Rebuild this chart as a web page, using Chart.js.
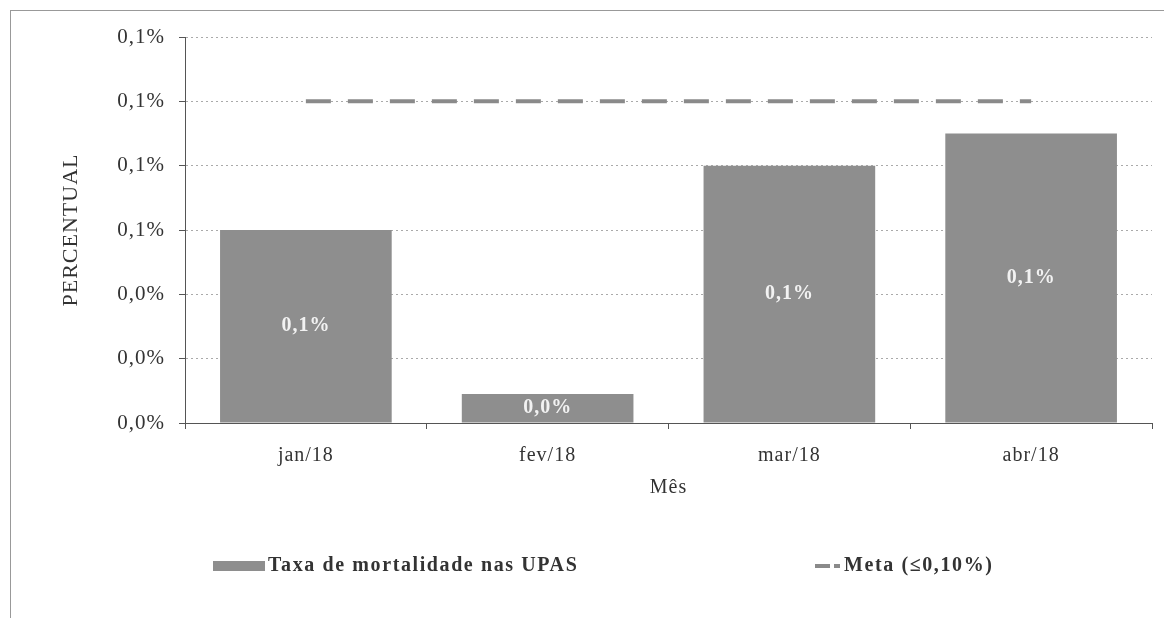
<!DOCTYPE html>
<html>
<head>
<meta charset="utf-8">
<script src="https://cdn.jsdelivr.net/npm/chart.js@4/dist/chart.umd.min.js"></script>
<style>
  html, body { margin: 0; padding: 0; background: #fff; }
  #wrap { position: relative; width: 1164px; height: 618px; }
  #frame { position: absolute; left: 10px; top: 10px; right: 0; bottom: 0;
           border-top: 1px solid #999; border-left: 1px solid #999; }
  #legend { position: absolute; top: 553px; left: 0; width: 1164px; height: 26px;
            font-family: "Liberation Serif", serif; font-size: 20px; font-weight: bold;
            letter-spacing: 1.6px; color: #333; }
  #legend span { position: absolute; }
</style>
</head>
<body>
<div id="wrap">
  <div id="frame"></div>
  <canvas id="taxaChart" width="1164" height="618"></canvas>
  <div id="legend"></div>
</div>
<script>
const meses = ['jan/18', 'fev/18', 'mar/18', 'abr/18'];
const taxaMortalidade = [0.06, 0.009, 0.08, 0.09];
const meta = [0.10, 0.10, 0.10, 0.10];
const serieNomes = ['Taxa de mortalidade nas UPAS', 'Meta (≤0,10%)'];

const corBarra = '#8e8e8e';
const corMeta = '#8a8a8a';
const fonte = '"Liberation Serif", serif';

const fmt = v => v.toFixed(1).replace('.', ',') + '%';

// letter spacing on the canvas text, like the old scanned chart
const espacamento = {
  id: 'espacamento',
  beforeLayout(chart) { chart.ctx.letterSpacing = '1px'; },
  beforeDraw(chart) { chart.ctx.letterSpacing = '1px'; }
};

// value labels in the middle of each bar
const rotulos = {
  id: 'rotulos',
  afterDatasetsDraw(chart) {
    const ctx = chart.ctx;
    const meta0 = chart.getDatasetMeta(0);
    ctx.save();
    ctx.font = 'bold 20px ' + fonte;
    ctx.fillStyle = '#f2f2f2';
    ctx.textAlign = 'center';
    ctx.textBaseline = 'middle';
    meta0.data.forEach((bar, i) => {
      ctx.fillText(fmt(taxaMortalidade[i]), bar.x, (bar.y + bar.base) / 2);
    });
    ctx.restore();
  }
};

const ctx = document.getElementById('taxaChart').getContext('2d');
new Chart(ctx, {
  data: {
    labels: meses,
    datasets: [
      {
        type: 'bar',
        label: serieNomes[0],
        data: taxaMortalidade,
        backgroundColor: corBarra,
        categoryPercentage: 1,
        barPercentage: 0.71,
        order: 2
      },
      {
        type: 'line',
        label: serieNomes[1],
        data: meta,
        borderColor: corMeta,
        borderWidth: 4,
        borderDash: [25, 17],
        pointRadius: 0,
        fill: false,
        order: 1
      }
    ]
  },
  options: {
    responsive: false,
    animation: false,
    layout: { padding: { left: 10, right: 12, top: 37, bottom: 110 } },
    plugins: { legend: { display: false }, tooltip: { enabled: false } },
    scales: {
      x: {
        afterFit(scale) { scale.height = 85; },
        grid: { drawOnChartArea: false, drawTicks: true, tickLength: 6, color: '#555' },
        border: { color: '#555' },
        ticks: { color: '#333', padding: 15, font: { family: fonte, size: 20 } },
        title: { display: true, text: 'Mês', color: '#333', padding: { top: 0, bottom: 8 },
                 font: { family: fonte, size: 20 } }
      },
      y: {
        min: 0,
        max: 0.12,
        afterFit(scale) { scale.width = 175; },
        ticks: { stepSize: 0.02, color: '#333', padding: 14, callback: v => fmt(v),
                 font: { family: fonte, size: 21 } },
        grid: { color: '#aaa', tickLength: 6, tickColor: '#555' },
        border: { color: '#555', dash: [2, 3] },
        title: { display: true, text: 'PERCENTUAL', color: '#333', padding: { top: 48, bottom: 0 },
                 font: { family: fonte, size: 22 } }
      }
    }
  },
  plugins: [espacamento, rotulos]
});

// legend below the chart
const leg = document.getElementById('legend');
leg.innerHTML =
  '<span style="left:213px;top:8px;width:52px;height:10px;background:' + corBarra + '"></span>' +
  '<span style="left:268px;top:0">' + serieNomes[0] + '</span>' +
  '<span style="left:815px;top:11px;width:15px;height:4px;background:' + corMeta + '"></span>' +
  '<span style="left:834px;top:11px;width:6px;height:4px;background:' + corMeta + '"></span>' +
  '<span style="left:844px;top:0">' + serieNomes[1] + '</span>';
</script>
</body>
</html>
